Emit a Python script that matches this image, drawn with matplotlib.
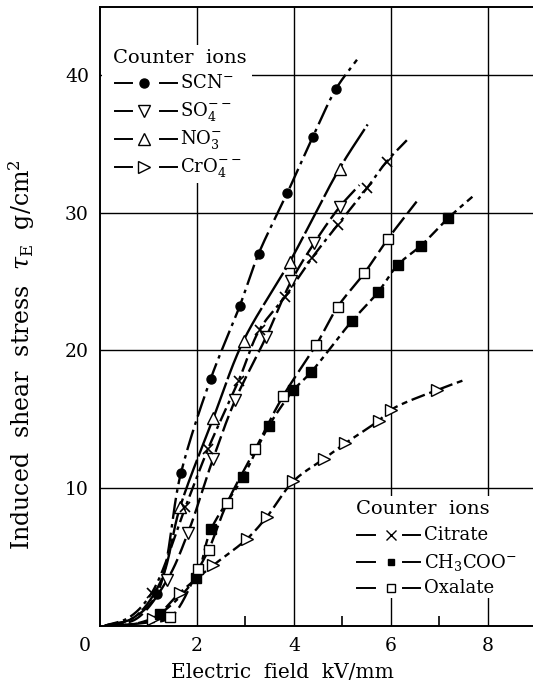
import numpy as np
import matplotlib
matplotlib.use("Agg")
import matplotlib.pyplot as plt
from matplotlib.patches import Rectangle

plt.rcParams['font.family'] = ['DejaVu Serif']
plt.rcParams['mathtext.fontset'] = 'dejavuserif'

# ---------------- data ----------------
scn_x = [1.17, 1.67, 2.28, 2.88, 3.27, 3.86, 4.39, 4.87]
scn_y = [2.3, 11.1, 17.9, 23.2, 27.0, 31.4, 35.5, 39.0]

so4_x = [1.38, 1.81, 2.33, 2.79, 3.43, 3.94, 4.42, 4.94]
so4_y = [3.3, 6.7, 12.1, 16.4, 21.0, 25.0, 27.8, 30.4]

no3_x = [1.65, 2.34, 2.96, 3.91, 4.94]
no3_y = [8.6, 15.1, 20.7, 26.4, 33.2]

cro4_x = [1.10, 1.65, 2.34, 3.03, 3.44, 3.99, 4.61, 5.06, 5.75, 6.01, 6.94]
cro4_y = [0.5, 2.4, 4.4, 6.3, 7.9, 10.5, 12.1, 13.25, 14.9, 15.7, 17.1]

citrate_x = [1.07, 1.76, 2.23, 2.86, 3.29, 3.82, 4.37, 4.90, 5.50, 5.91]
citrate_y = [2.4, 8.6, 12.85, 17.8, 21.5, 23.9, 26.7, 29.1, 31.75, 33.7]

acetate_x = [1.23, 1.97, 2.29, 2.95, 3.48, 3.99, 4.35, 5.19, 5.73, 6.14, 6.62, 7.18]
acetate_y = [0.85, 3.5, 7.0, 10.8, 14.5, 17.1, 18.4, 22.1, 24.2, 26.2, 27.6, 29.6]

oxalate_x = [1.45, 2.03, 2.24, 2.62, 3.20, 3.78, 4.46, 4.90, 5.45, 5.94]
oxalate_y = [0.6, 4.1, 5.5, 8.9, 12.8, 16.7, 20.4, 23.15, 25.6, 28.1]

# start (foot) / end points of the hand-drawn curves
scn_fit = ([0.1, 0.65], [0.0, 0.5], (5.30, 41.1))
so4_fit = ([0.15, 0.75], [0.0, 0.5], (5.35, 32.0))
no3_fit = ([0.1, 0.7, 1.25], [0.0, 0.6, 3.2], (5.52, 36.4))
cro4_fit = ([0.25, 0.75], [0.0, 0.15], (7.56, 17.9))
citrate_fit = ([0.1, 0.6], [0.0, 0.6], (6.34, 35.3))
acetate_fit = ([0.25, 0.8], [0.0, 0.2], (7.68, 31.15))
oxalate_fit = ([0.25, 0.9], [0.0, 0.2], (6.53, 30.8))

x_ticks = [2, 4, 6, 8]
y_ticks = [10, 20, 30, 40]
legend1_title = "Counter  ions"
legend1_labels = ["SCN$^{-}$", "SO$_4^{--}$", "NO$_3^{-}$", "CrO$_4^{--}$"]
legend2_title = "Counter  ions"
legend2_labels = ["Citrate", "CH$_3$COO$^{-}$", "Oxalate"]

XMAX, YMAX = 8.93, 44.93


def catmull_rom(px, py, n_seg=40):
    """centripetal Catmull-Rom curve through the nodes (in screen-like scaled coords)."""
    P = np.column_stack([np.asarray(px) / XMAX * 433, np.asarray(py) / YMAX * 618.7])
    P = np.vstack([2 * P[0] - P[1], P, 2 * P[-1] - P[-2]])
    out = []
    for i in range(1, len(P) - 2):
        p0, p1, p2, p3 = P[i - 1], P[i], P[i + 1], P[i + 2]
        t0 = 0.0
        t1 = t0 + np.linalg.norm(p1 - p0) ** 0.5
        t2 = t1 + np.linalg.norm(p2 - p1) ** 0.5
        t3 = t2 + np.linalg.norm(p3 - p2) ** 0.5
        t = np.linspace(t1, t2, n_seg)[:, None]
        a1 = (t1 - t) / (t1 - t0) * p0 + (t - t0) / (t1 - t0) * p1
        a2 = (t2 - t) / (t2 - t1) * p1 + (t - t1) / (t2 - t1) * p2
        a3 = (t3 - t) / (t3 - t2) * p2 + (t - t2) / (t3 - t2) * p3
        b1 = (t2 - t) / (t2 - t0) * a1 + (t - t0) / (t2 - t0) * a2
        b2 = (t3 - t) / (t3 - t1) * a2 + (t - t1) / (t3 - t1) * a3
        c = (t2 - t) / (t2 - t1) * b1 + (t - t1) / (t2 - t1) * b2
        out.append(c)
    C = np.vstack(out)
    return C[:, 0] / 433 * XMAX, C[:, 1] / 618.7 * YMAX


fig = plt.figure(figsize=(5.33, 6.93), dpi=100)
ax = fig.add_axes([0.1876, 0.0971, 0.8124, 0.8928])
ax.set_xlim(0, XMAX)
ax.set_ylim(0, YMAX)

# grid
for gx in x_ticks:
    ax.axvline(gx, color='black', lw=1.0, zorder=1)
for gy in y_ticks:
    ax.axhline(gy, color='black', lw=1.0, zorder=1)

series = [
    (scn_x, scn_y, scn_fit, dict(marker='o', ms=6.5, mfc='black', mec='black'), (0, (9, 2.2, 1.5, 2.2))),
    (so4_x, so4_y, so4_fit, dict(marker='v', ms=9, mfc='white', mec='black'), (0, (7, 2.2))),
    (no3_x, no3_y, no3_fit, dict(marker='^', ms=9, mfc='white', mec='black'), (0, (16, 1.5))),
    (cro4_x, cro4_y, cro4_fit, dict(marker='>', ms=9, mfc='white', mec='black'), (0, (6, 2, 2.5, 2))),
    (citrate_x, citrate_y, citrate_fit, dict(marker='x', ms=7.5, mfc='none', mec='black', mew=1.2), (0, (6, 2, 1.5, 2))),
    (acetate_x, acetate_y, acetate_fit, dict(marker='s', ms=6.5, mfc='black', mec='black'), (0, (5, 2, 2, 2))),
    (oxalate_x, oxalate_y, oxalate_fit, dict(marker='s', ms=7.5, mfc='white', mec='black', mew=1.0), (0, (8, 2.2))),
]

for xs_, ys_, fit, mk, ls in series:
    nx = list(fit[0]) + list(xs_) + [fit[2][0]]
    ny = list(fit[1]) + list(ys_) + [fit[2][1]]
    xx, yy = catmull_rom(nx, ny)
    ax.plot(xx, np.clip(yy, 0, None), color='black', lw=1.7, linestyle=ls, zorder=3)
    ax.plot(xs_, ys_, linestyle='none', zorder=4, **mk)

# spines / ticks
ax.spines['right'].set_visible(False)
for s in ['left', 'bottom', 'top']:
    ax.spines[s].set_linewidth(1.4)
ax.set_xticks(x_ticks)
ax.set_yticks(y_ticks)
ax.set_xticks([1, 3, 5, 7], minor=True)
ax.tick_params(axis='both', which='major', length=0, labelsize=13.5, pad=8)
ax.tick_params(axis='x', which='minor', direction='in', length=7, width=1.2)
ax.text(-0.035, -0.033, "0", transform=ax.transAxes, ha='center', va='center', fontsize=13.5)

ax.set_xlabel("Electric  field  kV/mm", fontsize=14.5)
ax.xaxis.set_label_coords((282.5 - 100) / 433.0, (625.7 - 672) / 618.7)
ax.set_ylabel(r"Induced  shear  stress  $\tau_{\rm E}$  g/cm$^2$", fontsize=17)
ax.yaxis.set_label_coords((22 - 100) / 433.0, (625.7 - 355) / 618.7)
ax.yaxis.label.set_va('center')
ax.xaxis.label.set_va('center')


def ax_pt(px, py):
    return ((px - 100) / 433.0, (625.7 - py) / 618.7)


# white boxes behind legends (break gridlines)
x0, y0 = ax_pt(102, 183); x1, y1 = ax_pt(252, 45)
ax.add_patch(Rectangle((x0, y0), x1 - x0, y1 - y0, transform=ax.transAxes,
                       facecolor='white', edgecolor='none', zorder=2))
x0, y0 = ax_pt(352, 598); x1, y1 = ax_pt(533, 496)
ax.add_patch(Rectangle((x0, y0), x1 - x0, y1 - y0, transform=ax.transAxes,
                       facecolor='white', edgecolor='none', zorder=2))


def legend_block(title, labels, styles, tx, ty, rows_y, d1, mxp, d2, txt_x, fs, tfs):
    p = ax_pt(tx, ty)
    ax.text(p[0], p[1], title, transform=ax.transAxes, ha='left', va='center', fontsize=tfs, zorder=6)
    for lab, mk, ry in zip(labels, styles, rows_y):
        a = ax_pt(d1[0], ry); b = ax_pt(d1[1], ry)
        ax.plot([a[0], b[0]], [a[1], b[1]], transform=ax.transAxes, color='black', lw=1.4, zorder=6, clip_on=False)
        a = ax_pt(d2[0], ry); b = ax_pt(d2[1], ry)
        ax.plot([a[0], b[0]], [a[1], b[1]], transform=ax.transAxes, color='black', lw=1.4, zorder=6, clip_on=False)
        m = ax_pt(mxp, ry)
        ax.plot([m[0]], [m[1]], transform=ax.transAxes, linestyle='none', zorder=7, **mk)
        t = ax_pt(txt_x, ry)
        ax.text(t[0], t[1], lab, transform=ax.transAxes, ha='left', va='center', fontsize=fs, zorder=6)


leg1_styles = [s[3] for s in series[:4]]
leg2_styles = [dict(marker='x', ms=7.5, mfc='none', mec='black', mew=1.0),
               dict(marker='s', ms=5, mfc='black', mec='black'),
               dict(marker='s', ms=5.5, mfc='white', mec='black', mew=1.0)]

legend_block(legend1_title, legend1_labels, leg1_styles, 113, 58,
             [83, 111, 139, 167], (115, 132), 144.5, (160, 177), 180, 13, 14)
legend_block(legend2_title, legend2_labels, leg2_styles, 356, 509,
             [535, 562, 588], (357, 375), 391.5, (403, 420), 424, 13, 14)

fig.savefig("out.png", dpi=100)
